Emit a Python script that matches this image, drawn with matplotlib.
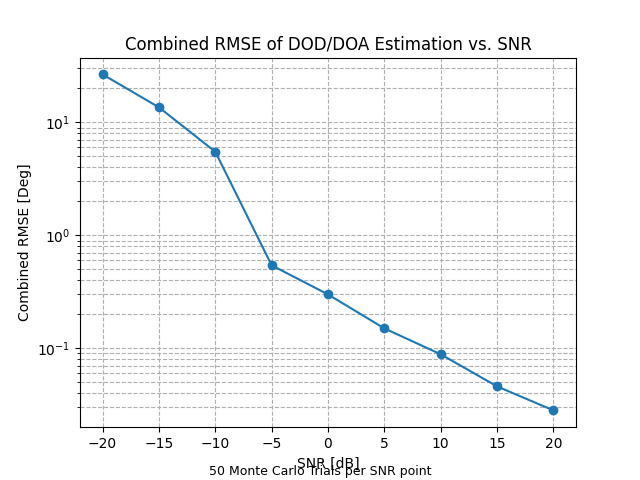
import matplotlib
matplotlib.use("Agg")
import matplotlib.pyplot as plt

snr = [-20, -15, -10, -5, 0, 5, 10, 15, 20]
rmse = [26.6, 13.6, 5.5, 0.543, 0.30, 0.150, 0.0885, 0.046, 0.0282]

fig, ax = plt.subplots(figsize=(6.4, 4.8), dpi=100)
ax.semilogy(snr, rmse, marker='o')
ax.grid(True, which='both', linestyle='--')
ax.set_xlabel('SNR [dB]')
ax.set_ylabel('Combined RMSE [Deg]')
ax.set_title('Combined RMSE of DOD/DOA Estimation vs. SNR')
fig.text(0.5, 0.01, '50 Monte Carlo Trials per SNR point', ha='center', fontsize=9)
fig.savefig('out.png')
